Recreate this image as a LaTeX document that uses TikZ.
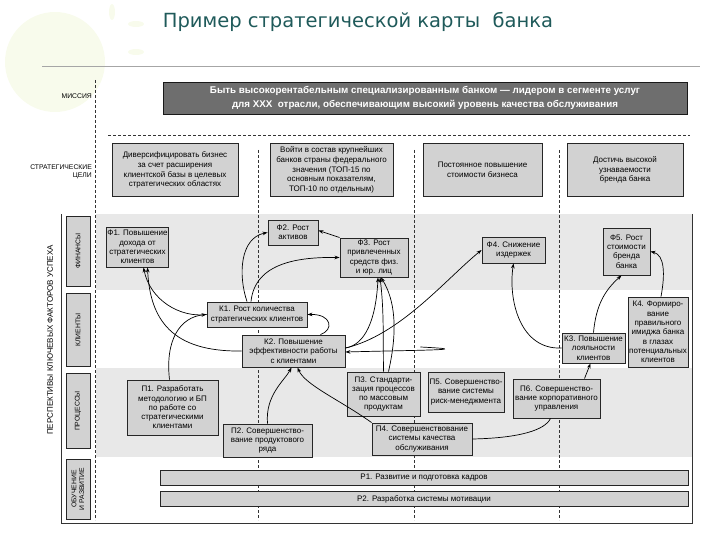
\documentclass[tikz,border=0pt]{standalone}
\usepackage{fontspec}
\setmainfont{Liberation Sans}
\newfontfamily\titlefont{DejaVu Sans}
\usetikzlibrary{arrows.meta}
\definecolor{titlecol}{HTML}{1F5A5A}
\definecolor{bandgray}{HTML}{E8E8E8}
\definecolor{boxfill}{HTML}{D2D2D2}
\definecolor{misfill}{HTML}{6E6E6E}
\definecolor{deco}{HTML}{F8FBEC}
\begin{document}
\begin{tikzpicture}[x=1pt,y=-1pt,
  nbox/.style={draw=black!85, line width=0.9pt, fill=boxfill, align=center, inner sep=1pt,
    font=\fontsize{8}{9.3}\selectfont},
  gbox/.style={draw=black!85, line width=0.8pt, fill=boxfill, align=center, inner sep=1pt,
    font=\fontsize{8}{9.8}\selectfont},
  lbox/.style={draw=black!85, line width=0.8pt, fill=boxfill, align=center, inner sep=1pt,
    font=\fontsize{6.8}{7.8}\selectfont},
  sz/.style 2 args={minimum width=#1pt, minimum height=#2pt},
  sidelbl/.style={font=\fontsize{6.8}{8.5}\selectfont, align=right, anchor=east, inner sep=0pt},
  vdash/.style={dashed, dash pattern=on 3pt off 2pt, line width=0.6pt, black!80},
  conn/.style={-{Stealth[length=5pt,width=3.6pt]}, line width=0.7pt, black},
  plainconn/.style={line width=0.7pt, black}
]
\useasboundingbox (0,0) rectangle (720,540);
% decoration
\fill[deco] (55,62) circle (50pt);
\fill[deco] (112,12) ellipse (3pt and 8pt);
\fill[deco] (136,24) ellipse (8pt and 3pt);
\fill[deco] (136,52) ellipse (8pt and 3pt);
% title
\node[font=\titlefont\fontsize{19.5}{22}\selectfont, text=titlecol] (title) at (358,22) {Пример стратегической карты~~банка};
% frame
\draw[black!35, line width=0.8pt] (42,66) -- (700,66);
\fill[bandgray] (96,214) rectangle (692,290);
\fill[bandgray] (96,368) rectangle (692,457);
\draw[black!80, line width=0.8pt] (692,214) -- (692,523) -- (61,523) -- (61,214);
% dashed guides
\draw[vdash] (95,80) -- (95,520);
\draw[vdash] (108,135) -- (690,135);
\draw[vdash] (258,150) -- (258,520);
\draw[vdash] (414,150) -- (414,520);
\draw[vdash] (559,150) -- (559,520);
% side labels
\node[sidelbl] (lmis) at (92,96) {МИССИЯ};
\node[sidelbl] (lgoal) at (92,172) {СТРАТЕГИЧЕСКИЕ\\ЦЕЛИ};
\node[rotate=90, font=\fontsize{8}{9}\selectfont] (persp) at (50,340) {ПЕРСПЕКТИВЫ КЛЮЧЕВЫХ ФАКТОРОВ УСПЕХА};
\node[lbox, rotate=90, sz={70}{24}] (lf) at (78,251) {ФИНАНСЫ};
\node[lbox, rotate=90, sz={73}{24}] (lk) at (78,330) {КЛИЕНТЫ};
\node[lbox, rotate=90, sz={75}{24}] (lp) at (78,411) {ПРОЦЕССЫ};
\node[lbox, rotate=90, sz={60}{24}] (lo) at (78,489) {ОБУЧЕНИЕ\\И РАЗВИТИЕ};
% mission
\node[draw=black!90, line width=0.8pt, fill=misfill, text=white, align=center, sz={524}{32},
  font=\bfseries\fontsize{9.8}{14}\selectfont] (mis) at (425,98)
  {Быть высокорентабельным специализированным банком — лидером в сегменте услуг\\
   для XXX~~отрасли, обеспечивающим высокий уровень качества обслуживания};
% goals
\node[gbox, sz={126}{53}] (g1) at (175,170) {Диверсифицировать бизнес\\за счет расширения\\клиентской базы в целевых\\стратегических областях};
\node[gbox, sz={123}{53}] (g2) at (331.5,170) {Войти в состав крупнейших\\банков страны федерального\\значения (ТОП-15 по\\основным показателям,\\ТОП-10 по отдельным)};
\node[gbox, sz={119}{53}] (g3) at (482.5,170) {Постоянное повышение\\стоимости бизнеса};
\node[gbox, sz={116}{53}] (g4) at (625,170) {Достичь высокой\\узнаваемости\\бренда банка};
% finance
\node[nbox, sz={61}{40}] (f1) at (137.5,247) {Ф1. Повышение\\дохода от\\стратегических\\клиентов};
\node[nbox, sz={50}{25}] (f2) at (293,232.5) {Ф2. Рост\\активов};
\node[nbox, sz={68}{39}] (f3) at (374,257.5) {Ф3. Рост\\привлеченных\\средств физ.\\и юр. лиц};
\node[nbox, sz={63}{26}] (f4) at (513.5,250) {Ф4. Снижение\\издержек};
\node[nbox, sz={47}{47}] (f5) at (626.5,251.5) {Ф5. Рост\\стоимости\\бренда\\банка};
% clients
\node[nbox, sz={100}{25}] (k1) at (257,314.5) {К1. Рост количества\\стратегических клиентов};
\node[nbox, sz={103}{32}] (k2) at (293.5,351) {К2. Повышение\\эффективности работы\\с клиентами};
\node[nbox, sz={63}{30}] (k3) at (593.5,348) {К3. Повышение\\лояльности\\клиентов};
\node[nbox, sz={60}{70}] (k4) at (658,332) {К4. Формиро-\\вание\\правильного\\имиджа банка\\в глазах\\потенциальных\\клиентов};
% processes
\node[nbox, sz={91}{55}] (p1) at (172.5,407.5) {П1. Разработать\\методологию и БП\\по работе со\\стратегическими\\клиентами};
\node[nbox, sz={89}{33}] (p2) at (267.5,440.5) {П2. Совершенство-\\вание продуктового\\ряда};
\node[nbox, sz={73}{44}] (p3) at (383.5,394) {П3. Стандарти-\\зация процессов\\по массовым\\продуктам};
\node[nbox, sz={76}{40}] (p5) at (466,392) {П5. Совершенство-\\вание системы\\риск-менеджмента};
\node[nbox, sz={87}{39}] (p6) at (556.5,398.5) {П6. Совершенство-\\вание корпоративного\\управления};
\node[nbox, sz={100}{32}] (p4) at (422,439) {П4. Совершенствование\\системы качества\\обслуживания};
% learning
\node[nbox, sz={528}{15}] (r1) at (424,478) {Р1. Развитие и подготовка кадров};
\node[nbox, sz={528}{15}] (r2) at (424,499) {Р2. Разработка системы мотивации};
% connectors
\draw[conn] (k1.west) .. controls (180,318) and (150,300) .. ([xshift=6pt]f1.south);
\draw[conn] (k2.west) .. controls (172,352) and (150,320) .. ([xshift=10pt]f1.south);
\draw[conn] ([xshift=-3pt]p1.north) .. controls (165,340) and (180,317) .. (k1.west);
\draw[conn] ([xshift=-10pt]k1.north) .. controls (238,275) and (240,238) .. (f2.west);
\draw[conn] ([xshift=-6pt]k1.north) .. controls (255,262) and (300,257) .. (f3.west);
\draw[conn] (f3.north west) -- ([yshift=2pt]f2.east);
\draw[conn] ([xshift=27pt]k2.north) .. controls (334,330) and (332,314) .. (k1.east);
\draw[conn] (p2.north) .. controls (265,395) and (285,380) .. ([xshift=-2pt]k2.south);
\draw[conn] (p4.north west) .. controls (340,400) and (305,385) .. ([xshift=4pt]k2.south);
\draw[conn] ([yshift=3pt]k2.east) .. controls (400,335) and (445,280) .. (f4.west);
\draw[conn] ([yshift=3pt]k2.east) .. controls (365,345) and (376,320) .. ([xshift=4pt]f3.south);
\draw[conn] ([xshift=75pt,yshift=4pt]k2.east) .. controls (480,350) and (420,350) .. ([yshift=-1pt]k2.east);
\draw[conn] (p3.north) .. controls (383,335) and (384,310) .. ([xshift=6pt]f3.south);
\draw[conn] ([xshift=5pt]p3.north) .. controls (398,330) and (395,300) .. ([xshift=7pt]f3.south);
\draw[conn] (k3.west) .. controls (520,350) and (508,300) .. (f4.south);
\draw[conn] (k3.north) .. controls (596,305) and (605,290) .. ([xshift=-5pt]f5.south);
\draw[conn] ([xshift=3pt]k4.north) .. controls (665,275) and (665,255) .. (f5.east);
\draw[conn] ([xshift=28pt]p6.north) -- ([xshift=-3pt]k3.south);
\draw[plainconn] (p4.east) .. controls (520,438) and (545,430) .. ([xshift=-6pt]p6.south);
\end{tikzpicture}
\end{document}
